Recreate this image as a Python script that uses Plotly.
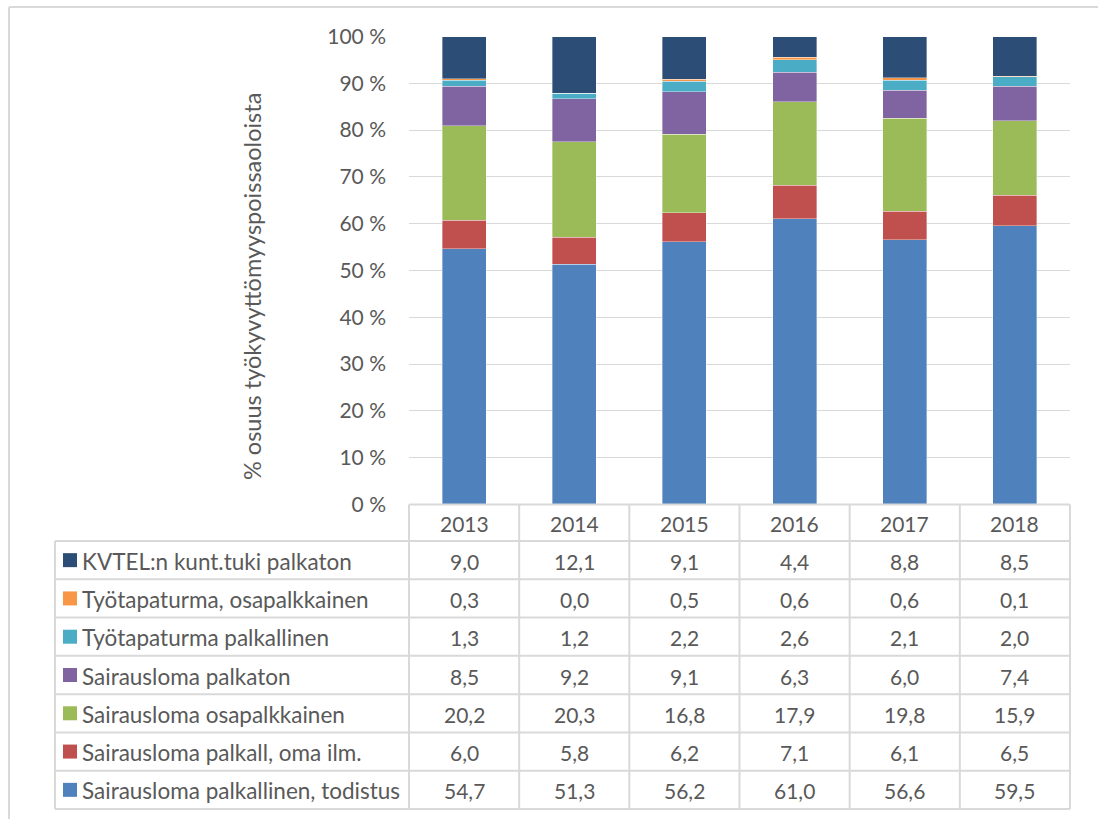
import plotly.graph_objects as go

W, H = 1098, 819

years = ["2013", "2014", "2015", "2016", "2017", "2018"]

# series, top-to-bottom as in the data table
series_names = [
    "KVTEL:n kunt.tuki palkaton",
    "Työtapaturma, osapalkkainen",
    "Työtapaturma palkallinen",
    "Sairausloma palkaton",
    "Sairausloma osapalkkainen",
    "Sairausloma palkall, oma ilm.",
    "Sairausloma palkallinen, todistus",
]
kvtel = [9.0, 12.1, 9.1, 4.4, 8.8, 8.5]
tyotap_osa = [0.3, 0.0, 0.5, 0.6, 0.6, 0.1]
tyotap_palk = [1.3, 1.2, 2.2, 2.6, 2.1, 2.0]
sairaus_palkaton = [8.5, 9.2, 9.1, 6.3, 6.0, 7.4]
sairaus_osa = [20.2, 20.3, 16.8, 17.9, 19.8, 15.9]
sairaus_oma = [6.0, 5.8, 6.2, 7.1, 6.1, 6.5]
sairaus_todistus = [54.7, 51.3, 56.2, 61.0, 56.6, 59.5]

series_values = [kvtel, tyotap_osa, tyotap_palk, sairaus_palkaton,
                 sairaus_osa, sairaus_oma, sairaus_todistus]
colors = ["#2C4D75", "#F79646", "#4BACC6", "#8064A2", "#9BBB59", "#C0504D", "#4F81BD"]

y_ticks = list(range(0, 101, 10))
y_tick_labels = [f"{t} %" for t in y_ticks]
y_title = "% osuus työkyvyttömyyspoissaoloista"

FONT = "Lato"
TXT = "#595959"
GRID = "#D9D9D9"
NUM_SIZE = 21
LBL_SIZE = 22.5

# pixel layout
PL, PR = 409, 1070
PT, PB = 36.5, 504.5
TL = 55
HDR_B = 541
ROW_H = (809 - HDR_B) / 7.0


def px(x):
    return x / W


def py(y):
    return 1 - y / H


fig = go.Figure()
for name, vals, col in reversed(list(zip(series_names, series_values, colors))):
    fig.add_trace(go.Bar(x=years, y=vals, name=name, marker_color=col,
                         marker_line=dict(color="rgba(255,255,255,0.6)", width=0.6),
                         width=0.4))

shapes = []
annotations = []

# outer chart-area border (partially visible)
shapes.append(dict(type="line", xref="paper", yref="paper", x0=px(9), x1=px(1098),
                   y0=py(7), y1=py(7), line=dict(color=GRID, width=2)))
shapes.append(dict(type="line", xref="paper", yref="paper", x0=px(9), x1=px(9),
                   y0=py(7), y1=py(819), line=dict(color=GRID, width=2)))

# table horizontal lines
shapes.append(dict(type="line", xref="paper", yref="paper", x0=px(PL), x1=px(PR),
                   y0=py(PB), y1=py(PB), line=dict(color=GRID, width=2)))
for i in range(8):
    yy = HDR_B + i * ROW_H
    shapes.append(dict(type="line", xref="paper", yref="paper", x0=px(TL), x1=px(PR),
                       y0=py(yy), y1=py(yy), line=dict(color=GRID, width=2)))
# table vertical lines
shapes.append(dict(type="line", xref="paper", yref="paper", x0=px(TL), x1=px(TL),
                   y0=py(HDR_B), y1=py(809), line=dict(color=GRID, width=2)))
colw = (PR - PL) / len(years)
for k in range(len(years) + 1):
    xx = PL + k * colw
    shapes.append(dict(type="line", xref="paper", yref="paper", x0=px(xx), x1=px(xx),
                       y0=py(PB), y1=py(809), line=dict(color=GRID, width=2)))

# header years (x given as category index)
for i, yr in enumerate(years):
    annotations.append(dict(x=i, xref="x", y=py((PB + HDR_B) / 2 + 1), yref="paper",
                            text=yr, showarrow=False, xanchor="center", yanchor="middle",
                            font=dict(family=FONT, size=NUM_SIZE, color=TXT)))

# rows
for r, (name, vals, col) in enumerate(zip(series_names, series_values, colors)):
    yc = HDR_B + (r + 0.5) * ROW_H
    shapes.append(dict(type="rect", xref="paper", yref="paper",
                       x0=px(63), x1=px(77), y0=py(yc - 7), y1=py(yc + 7),
                       fillcolor=col, line=dict(width=0)))
    annotations.append(dict(x=px(80), xref="paper", y=py(yc + 1), yref="paper",
                            text=name, showarrow=False, xanchor="left", yanchor="middle",
                            font=dict(family=FONT, size=LBL_SIZE, color=TXT)))
    for i, v in enumerate(vals):
        annotations.append(dict(x=i, xref="x", y=py(yc + 1), yref="paper",
                                text=f"{v:.1f}".replace(".", ","), showarrow=False,
                                xanchor="center", yanchor="middle",
                                font=dict(family=FONT, size=NUM_SIZE, color=TXT)))

# y-axis title
annotations.append(dict(x=px(252), xref="paper", y=py(287), yref="paper",
                        text=y_title, textangle=-90, showarrow=False,
                        xanchor="center", yanchor="middle",
                        font=dict(family=FONT, size=23.5, color=TXT)))

fig.update_layout(
    width=W, height=H,
    margin=dict(l=0, r=0, t=0, b=0, autoexpand=False),
    paper_bgcolor="white", plot_bgcolor="white",
    barmode="stack", barnorm="percent",
    showlegend=False,
    shapes=shapes, annotations=annotations,
    xaxis=dict(type="category", domain=[px(PL), px(PR)], range=[-0.5, 5.5],
               autorange=False, automargin=False, showticklabels=False,
               showgrid=False, zeroline=False, showline=False, ticks=""),
    yaxis=dict(domain=[py(PB), py(PT)], range=[0, 100], autorange=False,
               automargin=False, tickvals=y_ticks,
               ticktext=y_tick_labels, showgrid=True, gridcolor=GRID, gridwidth=1,
               zeroline=False, showline=False, ticks="", ticklabelstandoff=22,
               tickfont=dict(family=FONT, size=NUM_SIZE, color=TXT)),
)

fig.write_html("out.html", post_script="document.body.style.margin='0px';",
               config={"displayModeBar": False})
